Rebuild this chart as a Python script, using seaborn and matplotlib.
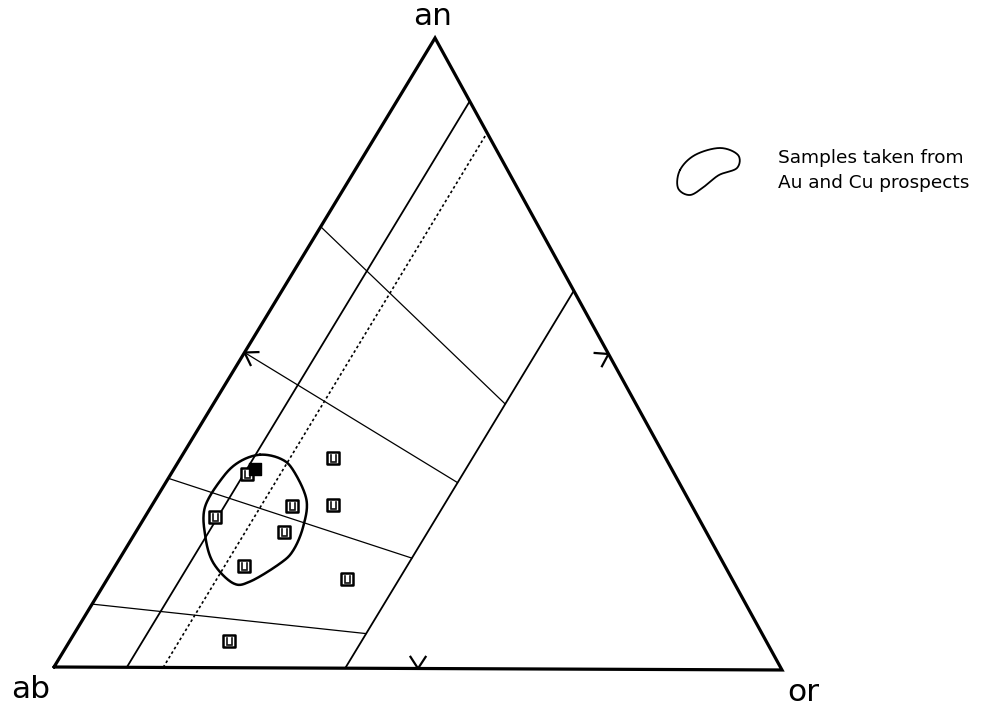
import numpy as np
import matplotlib
matplotlib.use("Agg")
import matplotlib.pyplot as plt
import seaborn as sns

# ---- normative feldspar compositions (wt %), an / or, ab = 100 - an - or ----
sample_an = [33.4, 30.7, 25.7, 25.9, 23.9, 21.5, 16.1, 14.1, 4.3]
sample_or = [20.9, 10.4, 19.2, 24.7, 9.6, 20.3, 17.7, 32.8, 21.8]
dense_an = [31.5]
dense_or = [11.1]

# field boundaries of constant or (%), running from the ab-an join to the an-or join
or_lines = [10, 40]
or_line_top_an = [90, 60]
dotted_or = 15
dotted_top_an = 85

# tie lines: an (%) on the ab-an join -> an (%) on the or = 40 boundary
tie_an_left = [70, 50, 30, 10]
tie_an_right = [42, 29.5, 17.5, 5.5]

# outline of samples from Au and Cu prospects (an %, or %)
prospect_an = [33.8, 33.2, 31.4, 26.7, 22.4, 18.7, 16.6, 13.7, 13.4, 16.6, 20.8, 25.5, 30.3, 32.7]
prospect_or = [10.6, 13.7, 16.4, 20.7, 22.5, 23.1, 22.4, 19.8, 17.6, 13.2, 9.9, 7.4, 7.4, 8.4]

corner_labels = ["ab", "or", "an"]
legend_lines = ["Samples taken from", "Au and Cu prospects"]

# ---- geometry of the triangle in plot units ----
AB = np.array([0.0, 0.0])
OR = np.array([1.0, -0.0041])
AN = np.array([0.5234, 0.864])


def tern(an, orr):
    an = np.asarray(an, float) / 100.0
    o = np.asarray(orr, float) / 100.0
    ab = 1.0 - an - o
    x = ab * AB[0] + o * OR[0] + an * AN[0]
    y = ab * AB[1] + o * OR[1] + an * AN[1]
    return x, y


def closed_curve(x, y, n=24):
    pts = np.column_stack([x, y])
    N = len(pts)
    t = np.linspace(0, 1, n, endpoint=False)[:, None]
    segs = []
    for i in range(N):
        p0, p1, p2, p3 = pts[(i - 1) % N], pts[i], pts[(i + 1) % N], pts[(i + 2) % N]
        segs.append(0.5 * (2 * p1 + (-p0 + p2) * t
                           + (2 * p0 - 5 * p1 + 4 * p2 - p3) * t ** 2
                           + (-p0 + 3 * p1 - 3 * p2 + p3) * t ** 3))
    out = np.vstack(segs + [segs[0][:1]])
    return out[:, 0], out[:, 1]


sns.set_style("white")
plt.rcParams["font.family"] = ["DejaVu Sans"]

fig = plt.figure(figsize=(10.07, 7.14), dpi=100)
ax = fig.add_axes([0, 0, 1, 1])
ax.set_xlim(-54 / 728, 953 / 728)
ax.set_ylim(-47 / 728, 667 / 728)
ax.axis("off")

ink = "black"

# triangle frame
tri = np.array([AB, OR, AN, AB])
ax.plot(tri[:, 0], tri[:, 1], color=ink, lw=2.3, solid_joinstyle="miter")

# constant-or boundaries
for o, top in zip(or_lines, or_line_top_an):
    x, y = tern([0, top], [o, o])
    sns.lineplot(x=x, y=y, sort=False, estimator=None, color=ink, lw=1.3, ax=ax)
x, y = tern([0, dotted_top_an], [dotted_or, dotted_or])
ax.plot(x, y, color=ink, lw=1.2, ls=(0, (1.6, 1.6)))

# tie lines
for a0, a1 in zip(tie_an_left, tie_an_right):
    x, y = tern([a0, a1], [0, 40])
    ax.plot(x, y, color=ink, lw=0.9)

# arrowheads at the middle of each side, pointing outward
centroid = (AB + OR + AN) / 3
arm = 15 / 728
half = np.deg2rad(33)
for P, Q in [(AB, AN), (AN, OR), (AB, OR)]:
    mid = (P + Q) / 2
    d = Q - P
    nrm = np.array([-d[1], d[0]])
    nrm /= np.linalg.norm(nrm)
    if np.dot(nrm, mid - centroid) < 0:
        nrm = -nrm
    back = -nrm
    for sgn in (1, -1):
        c, s = np.cos(sgn * half), np.sin(sgn * half)
        v = np.array([c * back[0] - s * back[1], s * back[0] + c * back[1]])
        ax.plot([mid[0], mid[0] + arm * v[0]], [mid[1], mid[1] + arm * v[1]],
                color=ink, lw=1.6, solid_capstyle="butt")

# prospect outline
bx, by = tern(prospect_an, prospect_or)
cx, cy = closed_curve(bx, by)
ax.plot(cx, cy, color=ink, lw=1.8)

# samples
sx, sy = tern(sample_an, sample_or)
sns.scatterplot(x=sx, y=sy, marker="s", s=70, color="white", edgecolor=ink,
                linewidth=1.8, ax=ax, zorder=5)
ax.scatter(sx, sy, marker=r"$\sqcup$", s=28, color=ink, linewidths=0.4, zorder=6)
dx, dy = tern(dense_an, dense_or)
ax.scatter(dx, dy, marker="s", s=80, color=ink, edgecolor=ink, zorder=7)

# corner labels
for lab, P, off in zip(corner_labels, [AB, OR, AN], [(-17, -16), (15, -16), (-1.5, 15.5)]):
    ax.annotate(lab, xy=P, xytext=off, textcoords="offset points",
                ha="center", va="center", fontsize=22.5, color=ink)

# legend: outline symbol and caption
lg_px = np.array([(680, 170), (695, 155), (720, 148), (738, 155), (737, 168),
                  (719, 175), (705, 186), (690, 195), (678, 188)], float)
lx, ly = closed_curve(lg_px[:, 0] / 1007, 1 - lg_px[:, 1] / 714)
ax.plot(lx, ly, color=ink, lw=1.3, transform=ax.transAxes)
for i, line in enumerate(legend_lines):
    ax.text(778 / 1007, 1 - (158 + 25 * i) / 714, line, transform=ax.transAxes,
            ha="left", va="center", fontsize=13.3, color=ink)

fig.savefig("out.png", dpi=100, facecolor="white")
